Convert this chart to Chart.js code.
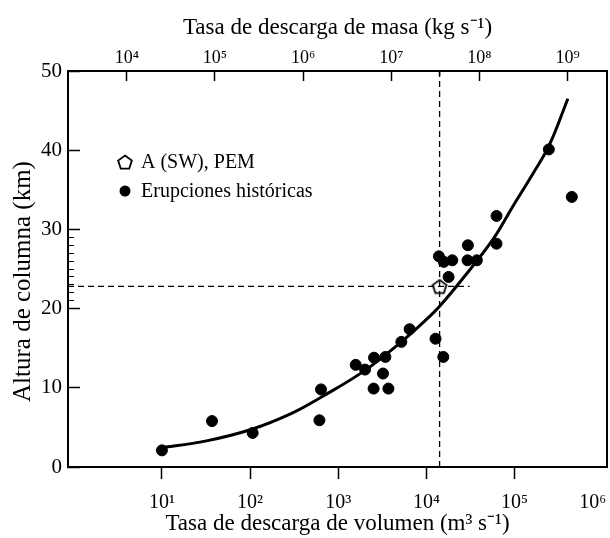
<!DOCTYPE html>
<html>
<head>
<meta charset="utf-8">
<script src="https://cdn.jsdelivr.net/npm/chart.js@4/dist/chart.umd.min.js"></script>
<style>
  body { margin: 0; background: #fff; }
</style>
</head>
<body>
<canvas id="chart" width="610" height="538"></canvas>
<script>
// axis ranges (volume in m3/s, mass = volume * density)
const volMin = 0.86;
const volMax = 1.12e6;
const density = 2500;
const volTicks = [1e1, 1e2, 1e3, 1e4, 1e5, 1e6];
const massTicks = [1e4, 1e5, 1e6, 1e7, 1e8, 1e9];
const heightTicks = [0, 10, 20, 30, 40, 50];
const minorHeightTicks = [21, 22, 23, 24, 25, 26, 27, 28, 29];

// historical eruptions
const histVol = [10, 37, 107, 612, 638, 1580, 2015, 2550, 2520, 3220, 3430, 3710, 5200, 6460,
  12700, 15560, 13870, 15800, 19680, 17870, 29580, 29300, 37400, 62500, 62500, 245000, 447000];
const histHeight = [2.1, 5.8, 4.3, 5.9, 9.8, 12.9, 12.3, 13.8, 9.9, 11.8, 13.9, 9.9, 15.8, 17.4,
  16.2, 13.9, 26.6, 25.9, 26.1, 24.0, 28.0, 26.1, 26.1, 31.7, 28.2, 40.1, 34.1];

// fitted curve
const fitVol = [9, 32, 107, 300, 638, 2015, 5200, 9950, 14130, 23800, 56700, 95600, 161000, 247000, 403000];
const fitHeight = [2.35, 3.3, 4.8, 6.8, 8.8, 12.2, 15.8, 18.6, 20.3, 23.3, 28.7, 32.9, 37.0, 40.6, 46.5];

// A (SW), PEM
const pemVol = 14130;
const pemHeight = 22.8;
const pemLineEnd = 31000;

const SERIF = '"Liberation Serif", "Times New Roman", serif';
const SUP = {'0': '⁰', '1': '¹', '2': '²', '3': '³', '4': '⁴', '5': '⁵', '6': '⁶', '7': '⁷', '8': '⁸', '9': '⁹', '-': '⁻'};

function powLabel(v) {
  const e = String(Math.round(Math.log10(v)));
  return '10' + e.split('').map(c => SUP[c]).join('');
}

function pentagon(size, lw) {
  const c = document.createElement('canvas');
  c.width = c.height = size;
  const g = c.getContext('2d');
  const r = size / 2 - lw;
  g.beginPath();
  for (let i = 0; i < 5; i++) {
    const a = -Math.PI / 2 + i * 2 * Math.PI / 5;
    const px = size / 2 + r * Math.cos(a);
    const py = size / 2 + r * Math.sin(a) + r * 0.1;
    if (i === 0) g.moveTo(px, py); else g.lineTo(px, py);
  }
  g.closePath();
  g.lineWidth = lw;
  g.strokeStyle = '#000';
  g.stroke();
  return c;
}
const pentIcon = pentagon(18, 1.8);

const insideLegend = {
  id: 'insideLegend',
  afterDraw(chart) {
    const { ctx, chartArea } = chart;
    const x = chartArea.left + 57;
    let y = chartArea.top + 91;
    ctx.save();
    ctx.font = '20px ' + SERIF;
    ctx.textBaseline = 'middle';
    ctx.fillStyle = '#000';
    chart.data.datasets.forEach(ds => {
      if (!ds.inLegend) return;
      if (ds.pointStyle === pentIcon) {
        ctx.drawImage(pentIcon, x - pentIcon.width / 2, y - pentIcon.height / 2);
      } else {
        ctx.beginPath();
        ctx.arc(x, y, ds.pointRadius, 0, Math.PI * 2);
        ctx.fill();
      }
      ctx.fillText(ds.label, x + 16, y + 1);
      y += 29;
    });
    ctx.restore();
  }
};

function noPad(s) { s.paddingLeft = 0; s.paddingRight = 0; s.paddingTop = 0; s.paddingBottom = 0; }

new Chart(document.getElementById('chart').getContext('2d'), {
  type: 'scatter',
  data: {
    datasets: [{
      label: 'A (SW), PEM',
      inLegend: true,
      data: [{ x: pemVol, y: pemHeight }],
      pointStyle: pentIcon,
      pointRadius: 9,
      xAxisID: 'x', yAxisID: 'y'
    }, {
      label: 'Erupciones históricas',
      inLegend: true,
      data: histVol.map((v, i) => ({ x: v, y: histHeight[i] })),
      backgroundColor: '#000',
      borderColor: '#000',
      pointRadius: 5.5,
      xAxisID: 'x', yAxisID: 'y'
    }, {
      label: 'ajuste',
      data: fitVol.map((v, i) => ({ x: v, y: fitHeight[i] })),
      showLine: true,
      borderColor: '#000',
      borderWidth: 3,
      pointRadius: 0,
      tension: 0.4,
      xAxisID: 'x', yAxisID: 'y'
    }, {
      label: 'vertical',
      data: [{ x: pemVol, y: 0 }, { x: pemVol, y: 50 }],
      showLine: true,
      borderColor: '#000',
      borderWidth: 1.3,
      borderDash: [6, 4],
      pointRadius: 0,
      xAxisID: 'x', yAxisID: 'y'
    }, {
      label: 'horizontal',
      data: [{ x: volMin, y: pemHeight }, { x: pemLineEnd, y: pemHeight }],
      showLine: true,
      borderColor: '#000',
      borderWidth: 1.3,
      borderDash: [6, 4],
      pointRadius: 0,
      xAxisID: 'x', yAxisID: 'y'
    }]
  },
  options: {
    responsive: false,
    animation: false,
    layout: { padding: 0, autoPadding: false },
    plugins: { legend: { display: false }, tooltip: { enabled: false } },
    scales: {
      x: {
        type: 'logarithmic', position: 'bottom', min: volMin, max: volMax,
        afterBuildTicks: s => { s.ticks = volTicks.map(v => ({ value: v })); },
        afterFit: s => { s.height = 71; noPad(s); },
        // last label pulled inside the canvas edge
        ticks: { callback: v => powLabel(v) + (v === 1e6 ? '\u2003' : ''), font: { family: SERIF, size: 20 }, color: '#000', padding: 12, maxRotation: 0, autoSkip: false },
        grid: { drawOnChartArea: false, tickLength: 12, tickWidth: 1.5,
          tickColor: c => (c.tick && c.tick.value === 1e6) ? 'rgba(0,0,0,0)' : '#000' },
        border: { color: '#000', width: 2 },
        title: { display: true, text: 'Tasa de descarga de volumen (m³ s⁻¹)', font: { family: SERIF, size: 23 }, color: '#000', padding: { top: 0, bottom: 0 } }
      },
      x2: {
        type: 'logarithmic', position: 'top', min: volMin * density, max: volMax * density,
        afterBuildTicks: s => { s.ticks = massTicks.map(v => ({ value: v })); },
        afterFit: s => { s.height = 71; noPad(s); },
        ticks: { callback: v => powLabel(v), font: { family: SERIF, size: 18 }, color: '#000', padding: 12, maxRotation: 0, autoSkip: false },
        grid: { drawOnChartArea: false, tickLength: -10, tickWidth: 1.5, tickColor: '#000' },
        border: { color: '#000', width: 2 },
        title: { display: true, text: 'Tasa de descarga de masa (kg s⁻¹)', font: { family: SERIF, size: 23 }, color: '#000', padding: { top: 14, bottom: 0 } }
      },
      x3: {
        type: 'logarithmic', position: 'top', weight: -1, min: volMin * density, max: volMax * density,
        afterBuildTicks: s => { s.ticks = [{ value: pemVol * density }]; },
        afterFit: s => { s.height = 0; noPad(s); },
        ticks: { display: false },
        grid: { drawOnChartArea: false, tickLength: -5, tickWidth: 1.5, tickColor: '#000' },
        border: { display: false }
      },
      y: {
        type: 'linear', position: 'left', min: 0, max: 50,
        afterBuildTicks: s => { s.ticks = heightTicks.map(v => ({ value: v })); },
        afterFit: s => { s.width = 68; noPad(s); },
        ticks: { font: { family: SERIF, size: 21 }, color: '#000', padding: 18 },
        grid: { drawOnChartArea: false, tickLength: -12, tickWidth: 1.5, tickColor: '#000' },
        border: { color: '#000', width: 2 },
        // trailing em space nudges the centred title a little lower, as in the original
        title: { display: true, text: 'Altura de columna (km)\u2003', font: { family: SERIF, size: 25 }, color: '#000', padding: { top: 8, bottom: 0 } }
      },
      yMinor: {
        type: 'linear', position: 'left', weight: -1, min: 0, max: 50,
        afterBuildTicks: s => { s.ticks = minorHeightTicks.map(v => ({ value: v })); },
        afterFit: s => { s.width = 0; noPad(s); },
        ticks: { display: false },
        grid: { drawOnChartArea: false, tickLength: -6, tickWidth: 1, tickColor: '#000' },
        border: { display: false }
      },
      yR: {
        type: 'linear', position: 'right', min: 0, max: 50,
        afterFit: s => { s.width = 3; noPad(s); },
        ticks: { display: false },
        grid: { drawOnChartArea: false, drawTicks: false },
        border: { color: '#000', width: 2 }
      }
    }
  },
  plugins: [insideLegend]
});
</script>
</body>
</html>
